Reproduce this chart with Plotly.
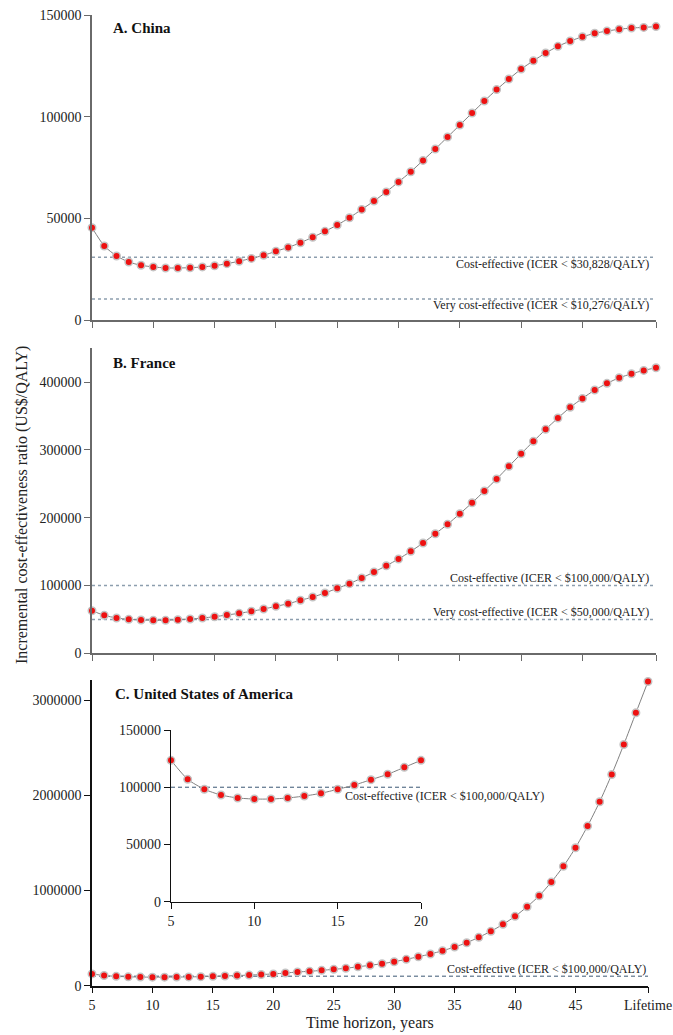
import plotly.graph_objects as go

# ---------------- data ----------------
years = list(range(5, 52))  # 51 = "Lifetime"
x_tickvals = [5, 10, 15, 20, 25, 30, 35, 40, 45, 51]
x_ticktext = ["5", "10", "15", "20", "25", "30", "35", "40", "45", "Lifetime"]

china = [45400, 36400, 31500, 28500, 26900, 26100, 25600, 25600, 25700, 26100,
         26700, 27700, 28900, 30300, 31800, 33800, 35700, 38000, 40700, 43600,
         46700, 50300, 54400, 58500, 63000, 67900, 72900, 78500, 84100, 90000,
         95900, 101800, 107700, 113300, 118500, 123400, 127500, 131300, 134600, 137200,
         139300, 141000, 142100, 143000, 143600, 143900, 144300]

france = [62800, 56000, 52100, 50100, 49100, 48600, 48600, 49600, 50600, 52100,
          54000, 56500, 59000, 62000, 65300, 69300, 73200, 78200, 83000, 88900,
          95900, 102700, 111100, 119900, 129200, 139100, 150400, 162700, 176400, 190300,
          205900, 222100, 239400, 257100, 275800, 294400, 312700, 330400, 347100, 362900,
          376100, 388400, 398300, 406500, 412400, 417400, 421300]

usa = [123500, 106900, 98200, 93200, 90600, 89700, 89700, 90600, 92300, 94700,
       98200, 101900, 106600, 111300, 117400, 123500, 133000, 144000, 151000, 161000,
       172000, 183000, 199000, 214000, 231000, 252000, 277000, 304000, 333000, 367000,
       406000, 451000, 508000, 571000, 644000, 728000, 829000, 944000, 1088000, 1253000,
       1448000, 1676000, 1931000, 2218000, 2533000, 2865000, 3194000]

inset_years = list(range(5, 21))
usa_inset = usa[:16]

china_thr = [30828, 10276]
france_thr = [100000, 50000]
usa_thr = [100000]

china_thr_labels = ["Cost-effective (ICER < $30,828/QALY)",
                    "Very cost-effective (ICER < $10,276/QALY)"]
france_thr_labels = ["Cost-effective (ICER < $100,000/QALY)",
                     "Very cost-effective (ICER < $50,000/QALY)"]
usa_thr_label = "Cost-effective (ICER < $100,000/QALY)"

panel_titles = ["A. China", "B. France", "C. United States of America"]

# ---------------- styling ----------------
FONT = "Liberation Serif"
LINE_COL = "#808080"
MARKER = dict(color="#ee1111", size=7.5, line=dict(color="#c4c4c4", width=1.5))
THR_AB = dict(color="#8d9eae", width=1.5, dash="3px,3px")
THR_C = dict(color="#3a5673", width=1, dash="4px,3px")

fig = go.Figure()


def add_series(x, y, xa, ya):
    fig.add_trace(go.Scatter(x=x, y=y, mode="lines+markers", xaxis=xa, yaxis=ya,
                             line=dict(color=LINE_COL, width=1, shape="spline", smoothing=0.6),
                             marker=MARKER, cliponaxis=False, showlegend=False,
                             hoverinfo="x+y"))


def add_thr(val, xa, ya, style, x0=5, x1=51):
    fig.add_trace(go.Scatter(x=[x0, x1], y=[val, val], mode="lines", xaxis=xa, yaxis=ya,
                             line=style, showlegend=False, hoverinfo="skip"))


for v in china_thr:
    add_thr(v, "x", "y", THR_AB)
for v in france_thr:
    add_thr(v, "x2", "y2", THR_AB)
add_thr(usa_thr[0], "x3", "y3", THR_C)
add_thr(usa_thr[0], "x4", "y4", THR_C, 5, 20)

add_series(years, china, "x", "y")
add_series(years, france, "x2", "y2")
add_series(years, usa, "x3", "y3")
add_series(inset_years, usa_inset, "x4", "y4")

H_PLOT = 971.0
W_PLOT = 564.0
def py(pix):
    return (986 - pix) / H_PLOT
def px(pix):
    return (pix - 92) / W_PLOT

tickfont = dict(family=FONT, size=14, color="#222")

def xaxis_common(show_labels, color, domain):
    return dict(range=[5, 51], tickmode="array", tickvals=x_tickvals, ticktext=x_ticktext,
                showticklabels=show_labels, ticks="outside", ticklen=6, tickwidth=1.2,
                tickcolor=color, showline=True, linecolor=color, linewidth=1.5,
                showgrid=False, zeroline=False, tickfont=tickfont, fixedrange=True,
                automargin=False, ticklabeloverflow="allow", domain=domain)

def yaxis_common(rng, dtick, color, domain):
    return dict(range=rng, dtick=dtick, tick0=0, tickformat="d", ticks="outside",
                ticklen=6, tickwidth=1.2, tickcolor=color, showline=True,
                linecolor=color, linewidth=1.5, showgrid=False, zeroline=False,
                tickfont=tickfont, domain=domain, fixedrange=True, automargin=False,
                ticklabeloverflow="allow")

GA = "#6a6a6a"
fig.update_layout(
    width=673, height=1035,
    margin=dict(l=92, r=17, t=15, b=49, autoexpand=False),
    paper_bgcolor="white", plot_bgcolor="white",
    font=dict(family=FONT, size=14, color="#222"),
    xaxis=dict(**xaxis_common(False, GA, [0, 1]), anchor="y"),
    yaxis=dict(**yaxis_common([0, 150000], 50000, GA, [py(320), 1.0]), anchor="x"),
    xaxis2=dict(**xaxis_common(False, GA, [0, 1]), anchor="y2"),
    yaxis2=dict(**yaxis_common([0, 450000], 100000, GA, [py(653.3), py(348.3)]), anchor="x2"),
    xaxis3=dict(**xaxis_common(True, "#111", [0, px(648)]), anchor="y3"),
    yaxis3=dict(**yaxis_common([0, 3210000], 1000000, "#111", [py(985.7), py(680)]), anchor="x3"),
    xaxis4=dict(range=[5, 20], tickvals=[5, 10, 15, 20], ticks="outside", ticklen=6,
                tickwidth=1.2, tickcolor="#111", showline=True, linecolor="#111",
                linewidth=1.2, showgrid=False, zeroline=False, tickfont=tickfont,
                domain=[px(171), px(421)], anchor="y4", fixedrange=True,
                automargin=False, ticklabeloverflow="allow"),
    yaxis4=dict(range=[0, 150000], dtick=50000, tick0=0, tickformat="d", ticks="outside",
                ticklen=6, tickwidth=1.2, tickcolor="#111", showline=True, linecolor="#111",
                linewidth=1.2, showgrid=False, zeroline=False, tickfont=tickfont,
                domain=[py(901.7), py(730)], anchor="x4", fixedrange=True,
                automargin=False, ticklabeloverflow="allow"),
)

ann = []
lab_font = dict(family=FONT, size=12, color="#222")
ann.append(dict(x=50.6, y=china_thr[0], xref="x", yref="y", text=china_thr_labels[0],
                xanchor="right", yanchor="middle", yshift=-7, showarrow=False, font=lab_font))
ann.append(dict(x=50.6, y=china_thr[1], xref="x", yref="y", text=china_thr_labels[1],
                xanchor="right", yanchor="middle", yshift=-6, showarrow=False, font=lab_font))
ann.append(dict(x=50.6, y=france_thr[0], xref="x2", yref="y2", text=france_thr_labels[0],
                xanchor="right", yanchor="middle", yshift=7.5, showarrow=False, font=lab_font))
ann.append(dict(x=50.6, y=france_thr[1], xref="x2", yref="y2", text=france_thr_labels[1],
                xanchor="right", yanchor="middle", yshift=7, showarrow=False, font=lab_font))
ann.append(dict(x=51, y=usa_thr[0], xref="x3", yref="y3", text=usa_thr_label,
                xanchor="right", yanchor="middle", yshift=7, showarrow=False, font=lab_font))
ann.append(dict(x=15.3, y=usa_thr[0], xref="x4", yref="y4", text=usa_thr_label,
                xanchor="left", yanchor="middle", yshift=-9, showarrow=False, font=lab_font))

title_font = dict(family=FONT, size=15, color="#111")
for t, xp, ypix in zip(panel_titles, [111, 111, 113], [28, 363, 694]):
    ann.append(dict(x=px(xp), y=py(ypix), xref="paper", yref="paper",
                    text="<b>" + t + "</b>", xanchor="left", yanchor="middle",
                    showarrow=False, font=title_font))

ann.append(dict(x=px(22), y=py(505), xref="paper", yref="paper",
                text="Incremental cost-effectiveness ratio (US$/QALY)", textangle=-90,
                xanchor="center", yanchor="middle", showarrow=False,
                font=dict(family=FONT, size=16, color="#222")))
ann.append(dict(x=px(370), y=py(1023), xref="paper", yref="paper",
                text="Time horizon, years", xanchor="center", yanchor="middle",
                showarrow=False, font=dict(family=FONT, size=16, color="#222")))

fig.update_layout(annotations=ann)

fig.write_html("out.html",
               config={"displayModeBar": False},
               post_script="document.body.style.margin='0';"
                           "document.body.style.overflow='hidden';"
                           "document.documentElement.style.overflow='hidden';")
